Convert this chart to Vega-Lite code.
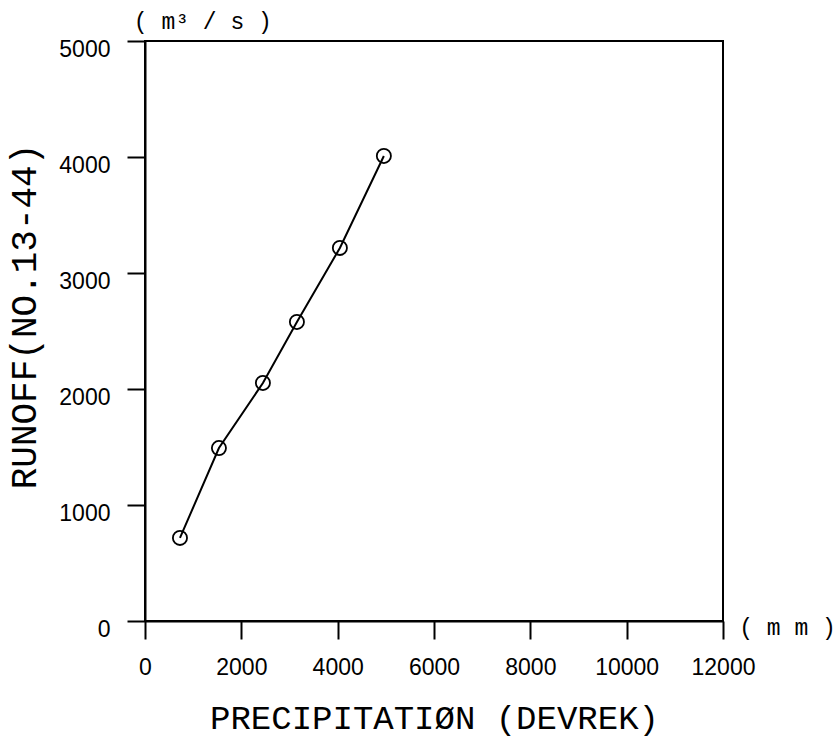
{
  "$schema": "https://vega.github.io/schema/vega-lite/v6.json",
  "width": 578,
  "height": 580,
  "autosize": {"type": "none"},
  "padding": {"left": 145, "top": 41, "right": 112, "bottom": 118},
  "background": "white",
  "datasets": {
    "points": [
      {"precip": 726, "runoff": 716},
      {"precip": 1535, "runoff": 1491},
      {"precip": 2448, "runoff": 2052},
      {"precip": 3154, "runoff": 2578},
      {"precip": 4046, "runoff": 3216},
      {"precip": 4959, "runoff": 4009}
    ],
    "notes": [
      {"precip": 1200, "runoff": 5164, "label": "( m³ / s )"},
      {"precip": 13340, "runoff": -60, "label": "( m m )"}
    ]
  },
  "encoding": {
    "x": {
      "field": "precip",
      "type": "quantitative",
      "scale": {"domain": [0, 12000], "nice": false, "zero": false},
      "axis": {
        "title": "PRECIPITATIØN (DEVREK)",
        "values": [0, 2000, 4000, 6000, 8000, 10000, 12000],
        "format": "d",
        "grid": false,
        "labelFlush": false,
        "labelOverlap": false,
        "titleFontSize": 34,
        "titleX": 289,
        "titleY": 97,
        "titleAlign": "center",
        "titleBaseline": "middle"
      }
    },
    "y": {
      "field": "runoff",
      "type": "quantitative",
      "scale": {"domain": [0, 5000], "nice": false, "zero": false},
      "axis": {
        "title": "RUNOFF(NO.13-44)",
        "values": [0, 1000, 2000, 3000, 4000, 5000],
        "format": "d",
        "grid": false,
        "labelOffset": 8,
        "labelFlush": false,
        "labelOverlap": false,
        "titleFontSize": 36,
        "titleAngle": -90,
        "titleX": -121,
        "titleY": 275,
        "titleAlign": "center",
        "titleBaseline": "middle"
      }
    }
  },
  "layer": [
    {
      "data": {"name": "points"},
      "mark": {"type": "line", "color": "black", "strokeWidth": 2}
    },
    {
      "data": {"name": "points"},
      "mark": {"type": "point", "shape": "circle", "filled": false, "color": "black", "size": 200, "strokeWidth": 1.8, "opacity": 1}
    },
    {
      "data": {"name": "notes"},
      "mark": {"type": "text", "font": "Liberation Mono", "fontSize": 23, "color": "black", "align": "center", "baseline": "middle", "clip": false},
      "encoding": {"text": {"field": "label"}}
    }
  ],
  "config": {
    "view": {"stroke": "black", "strokeWidth": 2},
    "axis": {
      "domainColor": "black",
      "domainWidth": 2,
      "tickColor": "black",
      "tickWidth": 2,
      "tickSize": 18,
      "labelFont": "Liberation Sans",
      "labelFontSize": 23,
      "labelColor": "black",
      "labelPadding": 17,
      "titleFont": "Liberation Mono",
      "titleFontWeight": "normal",
      "titleColor": "black"
    }
  }
}
